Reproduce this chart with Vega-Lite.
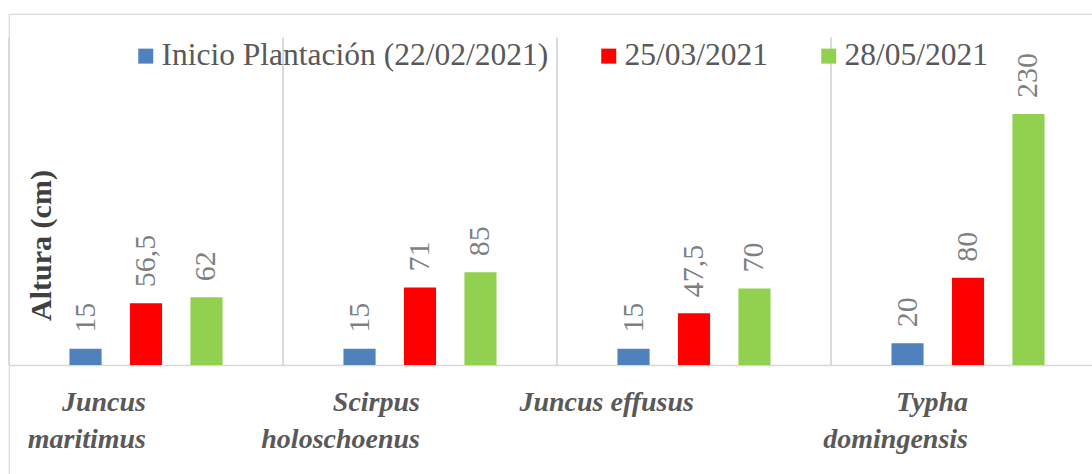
{
  "$schema": "https://vega.github.io/schema/vega-lite/v6.json",
  "width": 1085,
  "height": 462,
  "autosize": {"type": "none"},
  "padding": {"left": 9, "top": 14, "right": -2, "bottom": -2},
  "config": {
    "view": {"stroke": "#d9d9d9", "strokeWidth": 1.2},
    "font": "Liberation Serif",
    "locale": {"number": {"decimal": ",", "thousands": ".", "grouping": [3], "currency": ["", " €"]}}
  },
  "data": {
    "values": [
      {"especie": "Juncus maritimus", "fecha": "Inicio Plantación (22/02/2021)", "altura": 15},
      {"especie": "Juncus maritimus", "fecha": "25/03/2021", "altura": 56.5},
      {"especie": "Juncus maritimus", "fecha": "28/05/2021", "altura": 62},
      {"especie": "Scirpus holoschoenus", "fecha": "Inicio Plantación (22/02/2021)", "altura": 15},
      {"especie": "Scirpus holoschoenus", "fecha": "25/03/2021", "altura": 71},
      {"especie": "Scirpus holoschoenus", "fecha": "28/05/2021", "altura": 85},
      {"especie": "Juncus effusus", "fecha": "Inicio Plantación (22/02/2021)", "altura": 15},
      {"especie": "Juncus effusus", "fecha": "25/03/2021", "altura": 47.5},
      {"especie": "Juncus effusus", "fecha": "28/05/2021", "altura": 70},
      {"especie": "Typha domingensis", "fecha": "Inicio Plantación (22/02/2021)", "altura": 20},
      {"especie": "Typha domingensis", "fecha": "25/03/2021", "altura": 80},
      {"especie": "Typha domingensis", "fecha": "28/05/2021", "altura": 230}
    ]
  },
  "layer": [
    {
      "mark": {"type": "rule", "color": "#d9d9d9", "strokeWidth": 1.2},
      "encoding": {
        "x": {"field": "especie", "type": "nominal", "bandPosition": 0,
              "sort": ["Juncus maritimus", "Scirpus holoschoenus", "Juncus effusus", "Typha domingensis"]},
        "y": {"datum": 0},
        "y2": {"datum": 300}
      }
    },
    {
      "mark": {"type": "bar"},
      "encoding": {
        "x": {
          "field": "especie", "type": "nominal",
          "sort": ["Juncus maritimus", "Scirpus holoschoenus", "Juncus effusus", "Typha domingensis"],
          "scale": {"range": [0, 1096], "paddingInner": 0, "paddingOuter": 0},
          "axis": {
            "title": null, "orient": "bottom", "offset": -111,
            "ticks": false, "grid": false, "domain": true,
            "domainColor": "#d9d9d9", "domainWidth": 1.5,
            "labelFont": "Liberation Serif", "labelFontSize": 28,
            "labelFontWeight": "bold", "labelFontStyle": "italic",
            "labelColor": "#595959", "labelPadding": 37, "labelLineHeight": 37,
            "labelAngle": 0, "labelLimit": 0,
            "labelExpr": "datum.label == 'Juncus effusus' ? datum.label : split(datum.label, ' ')"
          }
        },
        "xOffset": {
          "field": "fecha", "type": "nominal",
          "sort": ["Inicio Plantación (22/02/2021)", "25/03/2021", "28/05/2021"],
          "scale": {"range": [0, 274], "paddingInner": 0.469, "paddingOuter": 1.159}
        },
        "y": {
          "field": "altura", "type": "quantitative",
          "scale": {"domain": [-101.7, 321.6], "nice": false, "zero": false},
          "axis": {
            "title": "Altura (cm)", "labels": false, "ticks": false, "domain": false, "grid": false,
            "titleFont": "Liberation Serif", "titleFontSize": 30, "titleFontWeight": "bold",
            "titleColor": "#404040", "titlePadding": -47
          }
        },
        "color": {
          "field": "fecha", "type": "nominal",
          "scale": {
            "domain": ["Inicio Plantación (22/02/2021)", "25/03/2021", "28/05/2021"],
            "range": ["#4f81bd", "#ff0000", "#92d050"]
          },
          "legend": {
            "orient": "none", "legendX": 121, "legendY": 26, "direction": "horizontal",
            "title": null, "symbolType": "square", "symbolSize": 225, "symbolStrokeWidth": 0,
            "labelFont": "Liberation Serif", "labelFontSize": 31.5, "labelColor": "#595959",
            "labelOffset": 0, "columnPadding": 44, "padding": 0, "labelLimit": 0
          }
        }
      }
    },
    {
      "mark": {"type": "text", "angle": 270, "align": "left", "baseline": "middle", "dx": 16,
               "font": "Liberation Serif", "fontSize": 30, "color": "#7f7f7f"},
      "encoding": {
        "x": {"field": "especie", "type": "nominal",
              "sort": ["Juncus maritimus", "Scirpus holoschoenus", "Juncus effusus", "Typha domingensis"]},
        "xOffset": {"field": "fecha", "type": "nominal",
                    "sort": ["Inicio Plantación (22/02/2021)", "25/03/2021", "28/05/2021"],
                    "scale": {"range": [0, 274], "paddingInner": 0.469, "paddingOuter": 1.159}},
        "y": {"field": "altura", "type": "quantitative"},
        "text": {"field": "altura", "type": "quantitative", "format": "~g"}
      }
    }
  ]
}
